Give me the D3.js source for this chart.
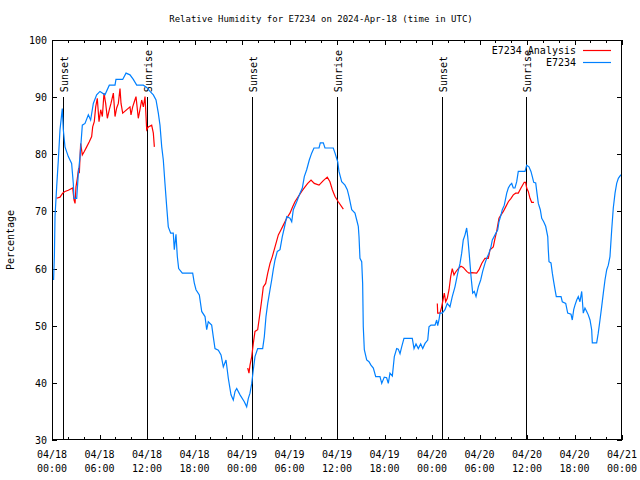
<!DOCTYPE html>
<html>
<head>
<meta charset="utf-8">
<script src="https://cdn.jsdelivr.net/npm/d3@7"></script>
<style>
  html, body { margin: 0; padding: 0; background: #fff; }
  svg { display: block; }
  text { font-family: "DejaVu Sans Mono", "Liberation Mono", monospace; font-size: 10px; fill: #000; }
</style>
</head>
<body>
<svg id="chart" width="640" height="480"></svg>
<script>
// ---------------- data ----------------
const chartTitle = "Relative Humidity for E7234 on 2024-Apr-18 (time in UTC)";
const yLabel = "Percentage";
const startTime = "2024-04-18T00:00:00Z";
const endTime = "2024-04-21T00:00:00Z";
const yTicks = [30, 40, 50, 60, 70, 80, 90, 100];

// Observations (hours after 04/18 00:00 UTC, relative humidity %)
const obsHours = [0.2,0.3,0.38,0.59,0.80,1.01,1.30,1.43,1.64,2.06,2.48,2.69,2.78,3.12,3.33,3.54,3.83,4.17,4.59,4.88,
  5.22,5.64,6.06,6.69,7.24,7.96,8.08,8.93,9.35,9.85,10.27,10.70,11.54,11.96,12.38,12.80,13.14,13.43,13.64,13.86,
  14.06,14.27,14.49,14.69,14.99,15.32,15.45,15.66,15.83,16.00,16.46,17.77,17.97,18.19,18.61,18.91,19.33,19.54,19.74,20.17,
  20.37,20.59,21.01,21.35,21.64,21.98,22.27,22.61,22.90,23.12,23.33,23.75,24.29,24.59,24.80,25.01,25.23,25.43,25.64,25.98,
  26.61,26.82,27.03,27.25,27.54,27.75,27.95,28.17,28.46,28.80,29.09,29.34,29.65,30.06,30.28,30.48,30.91,31.33,31.62,31.87,
  32.17,32.50,32.80,33.09,33.73,33.89,34.27,34.48,35.53,35.75,36.09,36.25,36.59,37.01,37.30,37.52,37.86,38.27,38.49,38.69,
  38.78,38.90,39.12,39.24,39.32,39.45,39.75,40.04,40.29,40.59,40.89,41.43,41.65,41.97,42.27,42.48,42.69,42.99,43.24,43.54,
  43.74,43.96,44.17,44.46,45.51,45.73,45.98,46.27,46.57,46.83,47.12,47.46,47.62,47.87,48.38,48.59,48.72,48.88,49.01,49.30,
  49.64,49.93,50.27,50.56,50.90,51.25,51.54,51.75,51.95,52.17,52.38,52.51,52.71,52.93,53.14,53.34,53.56,53.85,54.15,54.40,
  54.69,54.91,55.20,55.45,55.62,55.96,56.30,56.46,56.72,56.88,57.13,57.44,57.64,57.85,58.07,58.27,58.48,58.70,58.90,59.75,
  59.96,60.25,60.50,60.67,60.85,61.10,61.26,61.43,61.68,61.86,62.11,62.36,62.62,62.69,62.78,63.03,63.20,63.37,63.54,63.70,
  64.30,64.46,64.89,65.14,65.56,65.72,65.90,66.06,66.28,66.48,66.69,66.91,67.11,67.32,67.54,67.74,67.96,68.17,68.25,68.80,
  69.00,69.22,69.43,69.64,69.85,70.07,70.27,70.48,70.70,70.90,71.12,71.33,71.54,71.75,71.94];
const obsValues = [58.0,62.1,69.1,74.3,79.0,84.3,88.0,84.3,81.3,79.6,78.4,74.9,72.3,72.3,76.7,79.6,85.1,85.4,86.9,86.0,
  88.9,90.4,91.0,90.4,92.1,92.1,93.1,93.1,94.2,93.9,93.1,92.1,92.1,91.7,91.0,90.4,89.5,87.2,85.1,81.3,
  79.0,74.9,70.8,67.3,66.2,66.2,63.3,66.0,62.1,60.0,59.2,59.2,57.5,56.3,55.4,52.5,51.6,49.3,50.7,50.1,
  48.1,46.0,45.7,44.9,42.8,44.0,40.8,37.9,37.0,38.5,39.0,37.9,36.7,35.8,37.3,38.2,39.9,42.3,44.6,46.0,
  46.0,48.1,51.6,53.9,56.3,58.0,59.8,61.5,63.0,63.3,65.6,67.1,69.1,68.8,68.2,70.3,71.7,73.2,74.1,76.1,
  77.3,79.0,80.2,81.1,81.1,82.0,82.0,81.1,81.1,80.2,78.7,77.0,75.2,74.6,73.8,72.6,70.3,69.7,68.5,67.4,
  65.6,61.8,61.2,57.4,49.8,45.8,44.0,43.7,43.1,42.6,41.1,41.1,39.9,41.0,40.9,39.9,41.7,41.2,44.6,46.0,
  45.9,45.1,46.3,47.8,47.8,46.0,46.8,46.0,46.8,46.0,46.9,47.5,49.8,50.1,50.1,51.0,50.0,51.0,52.2,52.2,
  52.8,53.9,53.3,55.1,56.8,59.2,60.9,62.7,65.0,65.9,67.1,65.6,62.4,58.6,55.7,56.0,55.1,56.8,58.0,59.5,
  60.9,61.8,62.7,63.8,65.0,65.9,66.8,68.2,69.4,70.3,71.1,73.2,74.1,74.6,74.9,74.1,74.1,75.2,77.0,77.0,
  78.1,77.8,77.0,76.1,75.1,75.0,73.2,71.4,70.3,68.8,68.2,67.4,65.6,63.3,61.2,61.0,59.2,57.7,56.3,55.1,
  55.1,54.2,53.9,52.2,52.0,51.0,52.8,53.6,54.5,55.1,54.2,56.0,52.2,53.1,52.5,51.9,51.0,49.3,47.0,47.0,
  48.7,51.0,53.3,55.7,58.0,59.8,60.6,62.1,66.8,70.6,73.2,74.9,75.8,76.2,76.5];

// Analysis (hours after 04/18 00:00 UTC, %); null marks a gap
const anaHours = [0.59,1.01,1.35,1.64,2.06,2.61,2.78,2.91,3.03,3.20,3.37,3.45,3.62,3.83,4.08,4.38,4.71,5.01,5.14,5.34,
  5.52,5.72,5.94,6.15,6.36,6.57,6.78,6.99,7.24,7.45,7.75,7.96,8.17,8.38,8.59,8.72,8.93,9.85,9.98,10.19,
  10.40,10.61,10.90,11.11,11.33,11.54,11.75,11.96,12.17,12.59,12.80,12.93, 20.0,
  24.72,24.88,25.01,25.23,25.43,25.64,25.98,26.27,26.49,26.69,26.99,27.25,27.54,27.83,28.17,28.59,28.93,29.22,29.65,
  30.06,30.40,30.69,31.11,31.54,31.96,32.30,32.72,33.13,33.73,34.27,34.77,35.11,35.41,35.75,36.16,36.80, 44.0,
  48.67,48.72,49.01,49.22,49.43,49.55,49.73,49.93,50.15,50.36,50.56,50.78,50.99,51.32,51.66,51.95,52.38,52.67,53.01,53.64,
  53.94,54.28,54.69,55.11,55.33,55.74,55.96,56.17,56.46,56.72,57.01,57.31,57.64,57.98,58.27,58.57,58.90,59.24,59.65,59.83,
  59.96,60.16,60.38,60.59,60.88];
const anaValues = [72.3,72.5,73.2,73.5,73.7,74.1,72.0,71.4,74.3,75.8,77.6,76.7,81.9,79.9,80.5,81.3,82.2,83.1,84.8,85.7,
  88.3,89.8,85.7,87.8,86.6,90.7,88.9,86.3,87.8,88.9,90.7,86.6,88.1,88.9,91.5,88.9,87.2,88.3,86.9,88.3,
  89.2,90.1,86.3,87.8,89.5,88.3,90.1,84.3,84.8,85.1,83.7,81.3, null,
  42.6,41.7,43.1,44.6,46.9,49.0,49.3,52.2,54.5,56.8,57.4,59.2,60.9,62.1,63.8,65.9,66.8,67.6,68.8,
  69.7,70.8,71.7,72.6,73.5,74.3,74.9,75.5,74.9,74.6,75.4,76.0,75.2,73.8,72.6,71.7,70.4, null,
  53.9,52.2,52.2,53.3,54.8,55.7,54.2,54.8,56.3,58.6,60.0,58.9,59.4,60.0,60.4,60.2,59.5,59.2,59.3,59.2,
  59.8,60.9,61.8,61.8,63.3,63.8,65.3,66.5,68.8,69.4,70.0,70.8,71.7,72.3,72.9,73.2,73.2,74.1,75.1,75.1,
  74.1,73.5,72.3,71.6,71.6];

// Sun events (hours after 04/18 00:00 UTC)
const sunLabels = ["Sunset", "Sunrise", "Sunset", "Sunrise", "Sunset", "Sunrise"];
const sunHours = [1.43, 12.04, 25.30, 36.04, 49.30, 59.91];
const sunMarkValue = 90;

const seriesNames = ["E7234 Analysis", "E7234"];
const seriesColors = ["#ff0000", "#0080ff"];

// ---------------- drawing ----------------
const svg = d3.select("#chart");
const t0 = new Date(startTime), t1 = new Date(endTime);
const hToDate = h => new Date(t0.getTime() + h * 3600e3);

const L = 52, R = 622, T = 40, B = 440;
const x = d3.scaleUtc().domain([t0, t1]).range([L, R]);
const y = d3.scaleLinear().domain([30, 100]).range([B, T]);

svg.append("rect").attr("width", 640).attr("height", 480).attr("fill", "#fff");

// title
svg.append("text").attr("x", 321).attr("y", 22).attr("text-anchor", "middle")
  .style("font-size", "9px").text(chartTitle);

// y label
svg.append("text").attr("transform", `translate(14,${(T + B) / 2}) rotate(-90)`)
  .attr("text-anchor", "middle").text(yLabel);

// ticks
const major = d3.utcHour.every(6).range(t0, new Date(t1.getTime() + 1));
const minor = d3.utcHour.every(2).range(t0, new Date(t1.getTime() + 1));
const tickG = svg.append("g").attr("stroke", "#000").attr("shape-rendering", "crispEdges");
minor.forEach(d => {
  const px = Math.round(x(d)) + 0.5;
  tickG.append("line").attr("x1", px).attr("x2", px).attr("y1", B).attr("y2", B - 3);
  tickG.append("line").attr("x1", px).attr("x2", px).attr("y1", T).attr("y2", T + 3);
});
major.forEach(d => {
  const px = Math.round(x(d)) + 0.5;
  tickG.append("line").attr("x1", px).attr("x2", px).attr("y1", B).attr("y2", B - 5);
  tickG.append("line").attr("x1", px).attr("x2", px).attr("y1", T).attr("y2", T + 5);
});
yTicks.forEach(v => {
  const py = Math.round(y(v)) + 0.5;
  tickG.append("line").attr("x1", L).attr("x2", L + 5).attr("y1", py).attr("y2", py);
  tickG.append("line").attr("x1", R).attr("x2", R - 5).attr("y1", py).attr("y2", py);
});

// y tick labels
svg.append("g").selectAll("text").data(yTicks).join("text")
  .attr("x", L - 5).attr("y", d => y(d) + 4).attr("text-anchor", "end").text(d => d);

// x tick labels
const fmtD = d3.utcFormat("%m/%d"), fmtT = d3.utcFormat("%H:%M");
const xl = svg.append("g").selectAll("g").data(major).join("g");
xl.append("text").attr("x", d => x(d)).attr("y", 458).attr("text-anchor", "middle").text(fmtD);
xl.append("text").attr("x", d => x(d)).attr("y", 472).attr("text-anchor", "middle").text(fmtT);

// sun lines
sunHours.forEach((h, i) => {
  const px = Math.round(x(hToDate(h))) + 0.5;
  svg.append("line").attr("x1", px).attr("x2", px).attr("y1", y(sunMarkValue)).attr("y2", B)
    .attr("stroke", "#000").attr("shape-rendering", "crispEdges");
  svg.append("text").attr("transform", `translate(${px + 4},${y(sunMarkValue) - 5}) rotate(-90)`)
    .attr("text-anchor", "start").text(sunLabels[i]);
});

// series
const line = d3.line().defined(d => d[1] != null).x(d => x(hToDate(d[0]))).y(d => y(d[1]));
const anaData = anaHours.map((h, i) => [h, anaValues[i]]);
const obsData = obsHours.map((h, i) => [h, obsValues[i]]);
svg.append("path").datum(anaData).attr("d", line).attr("fill", "none")
  .attr("stroke", seriesColors[0]).attr("stroke-width", 1.2);
svg.append("path").datum(obsData).attr("d", line).attr("fill", "none")
  .attr("stroke", seriesColors[1]).attr("stroke-width", 1.2);

// border
svg.append("rect").attr("x", L + 0.5).attr("y", T + 0.5).attr("width", R - L - 1).attr("height", B - T - 1)
  .attr("fill", "none").attr("stroke", "#000").attr("shape-rendering", "crispEdges");

// legend
seriesNames.forEach((n, i) => {
  const ly = 50 + i * 12;
  svg.append("text").attr("x", 576).attr("y", ly + 4).attr("text-anchor", "end").text(n);
  svg.append("line").attr("x1", 583).attr("x2", 611).attr("y1", ly + 0.5).attr("y2", ly + 0.5)
    .attr("stroke", seriesColors[i]).attr("stroke-width", 1.2);
});
</script>
</body>
</html>
